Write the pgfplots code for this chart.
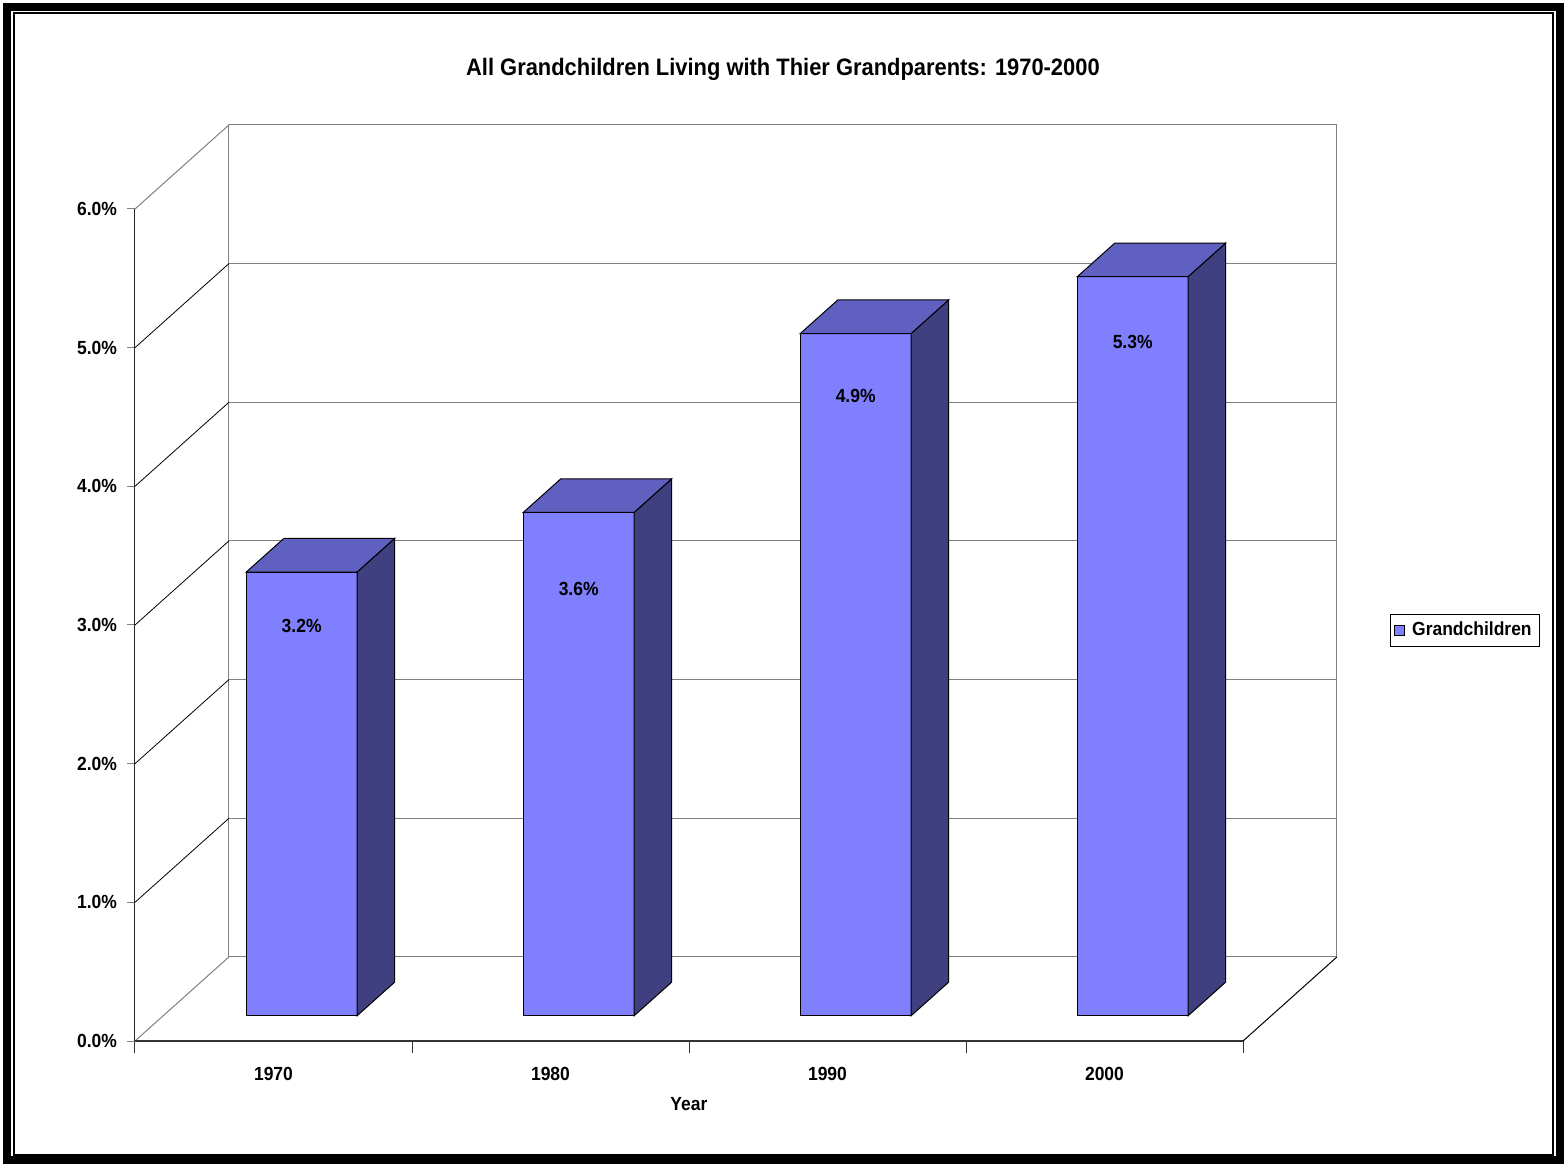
\documentclass[border=0pt]{standalone}
\usepackage{fontspec}
\setmainfont{Liberation Sans}[FakeStretch=0.92]
\usepackage{pgfplots}
\pgfplotsset{compat=1.18}

\definecolor{front}{RGB}{128,128,255}
\definecolor{topc}{RGB}{96,96,192}
\definecolor{side}{RGB}{64,64,128}
\definecolor{wall}{RGB}{128,128,128}

\newcommand{\lab}{\bfseries\fontsize{9.5}{11}\selectfont}

% oblique view: depth d (0 = front, 1 = back wall) moves a point by (0.339, 0.606) axis units
\newcommand{\poly}[3]{\addplot[#1] table[row sep=\\, x expr=#2+\thisrow{x}+0.339*\thisrow{d}, y expr=\thisrow{v}+0.606*\thisrow{d}] {#3} -- cycle;}
\newcommand{\seg}[2]{\addplot[forget plot, #1] table[row sep=\\, x expr=\thisrow{x}+0.339*\thisrow{d}, y expr=\thisrow{v}+0.606*\thisrow{d}] {x d v\\ #2};}
% one bar: #1 category index, #2 value, #3 style of the front face
\newcommand{\cube}[3]{%
  \poly{fill=front, draw=black, #3}{#1}{x d v\\ 0.3 0.3 0\\ 0.7 0.3 0\\ 0.7 0.3 #2\\ 0.3 0.3 #2\\}
  \poly{forget plot, fill=side, draw=black}{#1}{x d v\\ 0.7 0.3 0\\ 0.7 0.7 0\\ 0.7 0.7 #2\\ 0.7 0.3 #2\\}
  \poly{forget plot, fill=topc, draw=black}{#1}{x d v\\ 0.3 0.3 #2\\ 0.7 0.3 #2\\ 0.7 0.7 #2\\ 0.3 0.7 #2\\}
}

\begin{document}
\begin{tikzpicture}
\useasboundingbox (-67.5pt,520.5pt) rectangle (714.5pt,-61pt);
\begin{axis}[
  x=138.5pt, y=69.335pt,
  xmin=0, xmax=4.339, ymin=0, ymax=6.606,
  clip=false,
  axis line style={draw=none},
  every axis plot/.append style={line width=0.5pt},
  tick align=outside, tick pos=left,
  major tick length=4pt, minor tick length=6pt,
  ytick={0,1,2,3,4,5,6},
  yticklabels={0.0\%,1.0\%,2.0\%,3.0\%,4.0\%,5.0\%,6.0\%},
  y tick style={wall, line width=0.5pt},
  yticklabel style={xshift=-1.5pt},
  xtick={0.5,1.5,2.5,3.5},
  xticklabels={1970,1980,1990,2000},
  minor xtick={0,1,2,3,4},
  major x tick style={draw=none},
  minor x tick style={black!80, line width=0.5pt},
  ticklabel style={font=\lab},
  xticklabel style={yshift=-5.5pt},
  title={All Grandchildren Living with Thier Grandparents: 1970-2000},
  title style={at={(axis description cs:0.5391,1.048)}, anchor=center, font=\bfseries\fontsize{11.9}{14}\selectfont},
  xlabel={Year},
  xlabel style={at={(axis description cs:0.4609,-0.0688)}, anchor=center, font=\lab},
  legend style={at={(axis description cs:1.1065,0.4481)}, anchor=center, draw=black, line width=0.5pt, font=\lab,
    inner xsep=2pt, inner ysep=1pt, column sep=1.5pt, nodes={inner xsep=2pt, inner ysep=2.6pt}},
  legend image code/.code={\draw[#1, draw=black, line width=0.5pt] (0pt,-2.5pt) rectangle (5pt,2.5pt);},
]
% walls and floor
\seg{wall}{0 1 0\\ 4 1 0\\ 4 1 6\\ 0 1 6\\ 0 1 0\\}
\pgfplotsinvokeforeach{1,...,5}{\seg{wall}{0 1 #1\\ 4 1 #1\\}}
\pgfplotsinvokeforeach{1,...,5}{\seg{black, line width=0.4pt}{0 0 #1\\ 0 1 #1\\}}
\seg{wall}{0 0 6\\ 0 1 6\\}
\seg{wall}{0 0 0\\ 0 1 0\\}
\seg{black}{4 0 0\\ 4 1 0\\}
\seg{black!85}{0 0 0\\ 0 0 6\\}
\seg{black!80, line width=1pt}{0 0 0\\ 4 0 0\\}

% bars
\cube{0}{3.2}{}
\addlegendentry{Grandchildren}
\cube{1}{3.63}{forget plot}
\cube{2}{4.92}{forget plot}
\cube{3}{5.33}{forget plot}

% value labels on the front faces
\addplot[forget plot, draw=none, mark=none, nodes near coords={\pgfplotspointmeta\%}, point meta=explicit symbolic,
  nodes near coords style={anchor=center, font=\lab}]
  table[row sep=\\, meta=label, x expr=\thisrow{x}+0.339*0.3, y expr=\thisrow{v}+0.606*0.3] {
x v label\\
0.5 2.81 3.2\\
1.5 3.08 3.6\\
2.5 4.47 4.9\\
3.5 4.86 5.3\\
};
\end{axis}
% frame
\draw[line width=4pt] (-64pt,516.75pt) rectangle (712.25pt,-59.25pt);
\draw[line width=1pt] (-60.5pt,513.75pt) rectangle (709pt,-57pt);
\end{tikzpicture}
\end{document}
